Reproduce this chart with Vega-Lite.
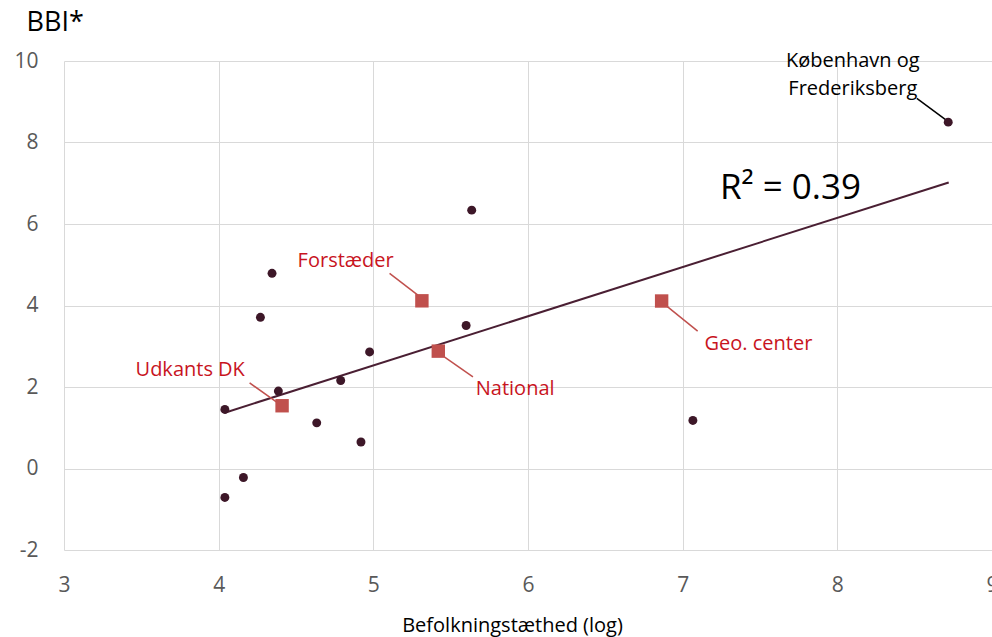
{
  "$schema": "https://vega.github.io/schema/vega-lite/v6.json",
  "width": 928,
  "height": 489,
  "autosize": {"type": "none"},
  "padding": {"left": 64, "top": 61, "right": 0, "bottom": 87},
  "background": "white",
  "config": {
    "view": {"stroke": null},
    "font": "Open Sans",
    "axis": {
      "domain": false,
      "ticks": false,
      "grid": true,
      "gridColor": "#d9d9d9",
      "gridWidth": 1,
      "labelFont": "Open Sans",
      "labelFontSize": 21,
      "labelColor": "#595959",
      "labelFlush": false,
      "labelOverlap": false,
      "labelBound": false,
      "titleFont": "Open Sans",
      "titleFontWeight": "normal",
      "titleColor": "#000000"
    }
  },
  "datasets": {
    "points": [
      {"x": 4.04, "y": 1.45},
      {"x": 4.345, "y": 4.79},
      {"x": 4.27, "y": 3.71},
      {"x": 4.386, "y": 1.9},
      {"x": 4.634, "y": 1.12},
      {"x": 4.789, "y": 2.16},
      {"x": 4.976, "y": 2.86},
      {"x": 5.6, "y": 3.51},
      {"x": 4.92, "y": 0.65},
      {"x": 4.04, "y": -0.71},
      {"x": 4.16, "y": -0.22},
      {"x": 5.636, "y": 6.34},
      {"x": 7.066, "y": 1.18},
      {"x": 8.717, "y": 8.5}
    ],
    "groups": [
      {"name": "Udkants DK", "x": 4.41, "y": 1.54, "lx": 3.816, "ly": 2.41, "ax": 4.2, "ay": 2.1, "bx": 4.373, "by": 1.635},
      {"name": "Forstæder", "x": 5.314, "y": 4.115, "lx": 4.821, "ly": 5.09, "ax": 5.105, "ay": 4.79, "bx": 5.288, "by": 4.255},
      {"name": "National", "x": 5.42, "y": 2.88, "lx": 5.917, "ly": 1.95, "ax": 5.461, "ay": 2.733, "bx": 5.644, "by": 2.249},
      {"name": "Geo. center", "x": 6.864, "y": 4.11, "lx": 7.49, "ly": 3.05, "ax": 6.897, "ay": 3.985, "bx": 7.097, "by": 3.37}
    ],
    "trend": [{"x": 4.04, "y": 1.37, "x2": 8.72, "y2": 7.02}],
    "kbh": [{"ax": 8.514, "ay": 9.084, "bx": 8.704, "by": 8.55, "lx": 8.1, "ly1": 10.0, "ly2": 9.31, "t1": "København og", "t2": "Frederiksberg"}],
    "r2": [{"x": 7.697, "y": 6.88, "t": "R² = 0.39"}]
  },
  "layer": [
    {
      "data": {"name": "trend"},
      "mark": {"type": "rule", "color": "#4a1f33", "strokeWidth": 2},
      "encoding": {
        "x": {"field": "x", "type": "quantitative", "scale": {"domain": [3, 9], "nice": false, "zero": false},
              "axis": {"values": [3, 4, 5, 6, 7, 8, 9], "labelExpr": "datum.value + ''", "labelPadding": 24, "title": "Befolkningstæthed (log)", "titleFontSize": 20, "titleX": 448, "titleAlign": "center", "titleY": 75, "titleBaseline": "middle"}},
        "y": {"field": "y", "type": "quantitative", "scale": {"domain": [-2, 10], "nice": false, "zero": false},
              "axis": {"values": [-2, 0, 2, 4, 6, 8, 10], "labelExpr": "datum.value + ''", "labelPadding": 26, "title": "BBI*", "titleFontSize": 27, "titleAngle": 0, "titleAlign": "left", "titleBaseline": "middle", "titleX": -38, "titleY": -39}},
        "x2": {"field": "x2"},
        "y2": {"field": "y2"}
      }
    },
    {
      "data": {"name": "groups"},
      "mark": {"type": "rule", "color": "#c0504d", "strokeWidth": 1.5},
      "encoding": {
        "x": {"field": "ax", "type": "quantitative"},
        "y": {"field": "ay", "type": "quantitative"},
        "x2": {"field": "bx"},
        "y2": {"field": "by"}
      }
    },
    {
      "data": {"name": "kbh"},
      "mark": {"type": "rule", "color": "#000000", "strokeWidth": 1.5},
      "encoding": {
        "x": {"field": "ax", "type": "quantitative"},
        "y": {"field": "ay", "type": "quantitative"},
        "x2": {"field": "bx"},
        "y2": {"field": "by"}
      }
    },
    {
      "data": {"name": "points"},
      "mark": {"type": "circle", "color": "#3d1728", "opacity": 1, "size": 80},
      "encoding": {
        "x": {"field": "x", "type": "quantitative"},
        "y": {"field": "y", "type": "quantitative"}
      }
    },
    {
      "data": {"name": "groups"},
      "mark": {"type": "square", "color": "#c0504d", "opacity": 1, "filled": true, "size": 180},
      "encoding": {
        "x": {"field": "x", "type": "quantitative"},
        "y": {"field": "y", "type": "quantitative"}
      }
    },
    {
      "data": {"name": "groups"},
      "mark": {"type": "text", "color": "#c8141e", "fontSize": 20, "align": "center", "baseline": "middle"},
      "encoding": {
        "x": {"field": "lx", "type": "quantitative"},
        "y": {"field": "ly", "type": "quantitative"},
        "text": {"field": "name"}
      }
    },
    {
      "data": {"name": "kbh"},
      "mark": {"type": "text", "color": "#000000", "fontSize": 20, "align": "center", "baseline": "middle"},
      "encoding": {
        "x": {"field": "lx", "type": "quantitative"},
        "y": {"field": "ly1", "type": "quantitative"},
        "text": {"field": "t1"}
      }
    },
    {
      "data": {"name": "kbh"},
      "mark": {"type": "text", "color": "#000000", "fontSize": 20, "align": "center", "baseline": "middle"},
      "encoding": {
        "x": {"field": "lx", "type": "quantitative"},
        "y": {"field": "ly2", "type": "quantitative"},
        "text": {"field": "t2"}
      }
    },
    {
      "data": {"name": "r2"},
      "mark": {"type": "text", "color": "#000000", "fontSize": 35, "align": "center", "baseline": "middle"},
      "encoding": {
        "x": {"field": "x", "type": "quantitative"},
        "y": {"field": "y", "type": "quantitative"},
        "text": {"field": "t"}
      }
    }
  ]
}
